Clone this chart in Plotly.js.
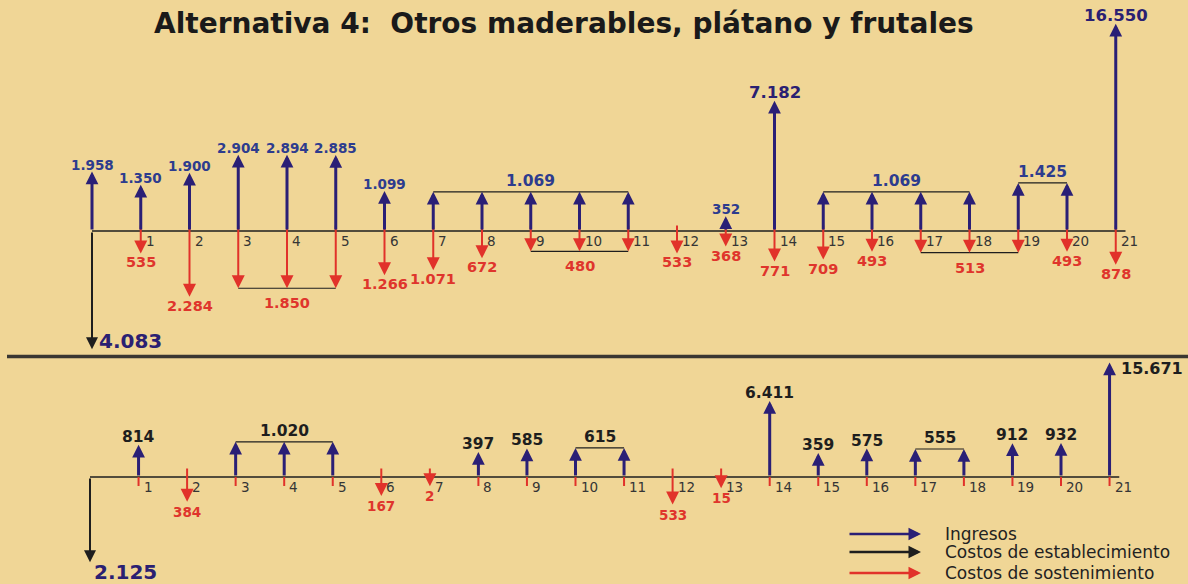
<!DOCTYPE html>
<html>
<head>
<meta charset="utf-8">
<script src="https://cdn.plot.ly/plotly-3.0.1.min.js"></script>
<style>
html,body{margin:0;padding:0;background:#F0D696;}
#chart{width:1188px;height:584px;}
</style>
</head>
<body>
<div id="chart"></div>
<script>
// ---------------- DATA ----------------
const titulo = 'Alternativa 4:  Otros maderables, plátano y frutales';
const periodos = [0,1,2,3,4,5,6,7,8,9,10,11,12,13,14,15,16,17,18,19,20,21];
const etiquetasPeriodo = ['','1','2','3','4','5','6','7','8','9','10','11','12','13','14','15','16','17','18','19','20','21'];
// Panel superior: flujos brutos
const ingresos = [1958,1350,1900,2904,2894,2885,1099,1069,1069,1069,1069,1069,0,352,7182,1069,1069,1069,1069,1425,1425,16550];
const costosSostenimiento = [0,535,2284,1850,1850,1850,1266,1071,672,480,480,480,533,368,771,709,493,513,513,513,493,878];
const costosEstablecimiento = [4083,0,0,0,0,0,0,0,0,0,0,0,0,0,0,0,0,0,0,0,0,0];
// Panel inferior: flujo neto
const flujoNeto = [-2125,814,-384,1020,1020,1020,-167,-2,397,585,615,615,-533,-15,6411,359,575,555,555,912,932,15671];
const leyenda = ['Ingresos','Costos de establecimiento','Costos de sostenimiento'];

// ---------------- STYLE ----------------
const W = 1188, H = 584;
const fondo = '#F0D696';
const azul = '#2A1F76', azulTexto = '#2D3C8E', azulOscuro = '#2A2072';
const rojo = '#E1322A', rojoTexto = '#DF352C';
const negro = '#1E1E1E';
const F = 'DejaVu Sans';

// Panels: axis pixel row, x mapping (px of period 0, px per period), ranges in px units on y
const A = {axis: 231, x0: 92, dx: 48.75, xr: [-1.8, 22.3], yr: [-124, 225]};
const B = {axis: 477, x0: 90, dx: 48.55, xr: [-1.8, 22.3], yr: [-107, 120]};
const domX = p => [(p.x0 + p.xr[0]*p.dx)/W, (p.x0 + p.xr[1]*p.dx)/W];
const domY = p => [(H - (p.axis - p.yr[0]))/H, (H - (p.axis - p.yr[1]))/H];

// display scales (arrow length in px from value)
const lenA = v => 1.75*Math.sqrt(v) - 18;
const lenB = v => 0.85*Math.sqrt(v) + 8;
const lenEst = v => 1.85*Math.sqrt(v);

const fmt = v => Math.abs(v).toString().replace(/\B(?=(\d{3})+(?!\d))/g, '.');

function grupos(vals, pred) {
  const out = []; let i = 0;
  while (i < vals.length) {
    let j = i;
    while (j + 1 < vals.length && vals[j+1] === vals[i]) j++;
    if (pred(vals[i], i)) out.push({s: i, e: j, v: vals[i]});
    i = j + 1;
  }
  return out;
}

const anns = [];
function flecha(ref, x, y0, y1, color, w, s, head) {
  anns.push({xref:'x'+ref, yref:'y'+ref, axref:'x'+ref, ayref:'y'+ref,
    x: x, y: y1, ax: x, ay: y0, text: '', showarrow: true,
    arrowhead: head === undefined ? 2 : head, arrowsize: s, arrowwidth: w,
    arrowcolor: color, standoff: 0, startstandoff: 0});
}
function etiqueta(ref, x, y, text, color, size, opts, weight) {
  anns.push(Object.assign({xref:'x'+ref, yref:'y'+ref, x: x, y: y, text: text,
    showarrow: false, font: {family: F, size: size, color: color, weight: weight === undefined ? 700 : weight}}, opts));
}

const BL = {w: 3, s: 0.85};   // blue arrows
const RD = {w: 2, s: 1.3};    // red arrows
const BK = {w: 2, s: 1.2};    // black arrows

// ---------------- TOP PANEL ----------------
costosSostenimiento.forEach((c, i) => { if (c > 0) flecha('', periodos[i], 7, -lenA(c), rojo, RD.w, RD.s); });
costosEstablecimiento.forEach((c, i) => { if (c > 0) flecha('', periodos[i], 0, -lenEst(c), negro, BK.w, BK.s); });
ingresos.forEach((v, i) => { if (v > 0) flecha('', periodos[i], 0, lenA(v), azul, BL.w, BL.s); });

const gIngA = grupos(ingresos, v => v > 0);
const gCosA = grupos(costosSostenimiento, v => v > 0);
const conA = {x: [], y: []};
gIngA.concat(gCosA.map(g => Object.assign({}, g, {neg: true}))).forEach(g => {
  if (g.e > g.s) {
    const y = g.neg ? -lenA(g.v) : lenA(g.v);
    conA.x.push(periodos[g.s], periodos[g.e], null);
    conA.y.push(y, y, null);
  }
});

// ---------------- BOTTOM PANEL ----------------
const stubB = {x: [], y: []};
flujoNeto.forEach((v, i) => {
  if (i > 0 && v > 0) { stubB.x.push(periodos[i], periodos[i], null); stubB.y.push(0, -9, null); }
});
flujoNeto.forEach((v, i) => {
  if (costosEstablecimiento[i] === 0 && v < 0) flecha('2', periodos[i], 10, -lenB(-v), rojo, RD.w, RD.s);
});
flujoNeto.forEach((v, i) => {
  if (costosEstablecimiento[i] > 0) flecha('2', periodos[i], 0, -lenEst(-v), negro, BK.w, BK.s);
});
flujoNeto.forEach((v, i) => { if (v > 0) flecha('2', periodos[i], 0, lenB(v), azul, BL.w, BL.s); });

const gPosB = grupos(flujoNeto, v => v > 0);
const gNegB = grupos(flujoNeto, (v, i) => v < 0 && costosEstablecimiento[i] === 0);
const conB = {x: [], y: []};
gPosB.forEach(g => {
  if (g.e > g.s) {
    const y = lenB(g.v);
    conB.x.push(periodos[g.s], periodos[g.e], null);
    conB.y.push(y, y, null);
  }
});

// ---------------- LABELS ----------------
gIngA.forEach(g => {
  const xc = (periodos[g.s] + periodos[g.e]) / 2;
  const big = g.v > 5000;
  const size = big ? 16.5 : (g.e > g.s ? 15.5 : 13.5);
  etiqueta('', xc, lenA(g.v), fmt(g.v), big ? azulOscuro : azulTexto, size,
    {xanchor: 'center', yanchor: 'bottom', yshift: g.e > g.s ? 0 : -3});
});
gCosA.forEach(g => {
  const xc = (periodos[g.s] + periodos[g.e]) / 2;
  etiqueta('', xc, -lenA(g.v), fmt(g.v), rojoTexto, 14.5,
    {xanchor: 'center', yanchor: 'top', yshift: g.e > g.s ? -5 : 1});
});
costosEstablecimiento.forEach((c, i) => {
  if (c > 0) etiqueta('', periodos[i], -lenEst(c), fmt(c), azulOscuro, 20,
    {xanchor: 'left', yanchor: 'middle', xshift: 5, yshift: 8});
});

const ultimo = periodos.length - 1;
gPosB.forEach(g => {
  const xc = (periodos[g.s] + periodos[g.e]) / 2;
  if (g.s === ultimo) {
    etiqueta('2', xc, lenB(g.v), fmt(g.v), negro, 16,
      {xanchor: 'left', yanchor: 'middle', xshift: 9, yshift: -6});
  } else {
    etiqueta('2', xc, lenB(g.v), fmt(g.v), negro, 15.5,
      {xanchor: 'center', yanchor: 'bottom', yshift: g.e > g.s ? 0 : -3});
  }
});
gNegB.forEach(g => {
  const xc = (periodos[g.s] + periodos[g.e]) / 2;
  etiqueta('2', xc, -lenB(-g.v), fmt(g.v), rojoTexto, 13.5,
    {xanchor: 'center', yanchor: 'top', yshift: 0});
});
flujoNeto.forEach((v, i) => {
  if (costosEstablecimiento[i] > 0) etiqueta('2', periodos[i], -lenEst(-v), fmt(v), azulOscuro, 20,
    {xanchor: 'left', yanchor: 'top', xshift: 2, yshift: 4});
});

// period tick labels
['', '2'].forEach(ref => {
  periodos.forEach((p, i) => {
    if (etiquetasPeriodo[i]) etiqueta(ref, p, 0, etiquetasPeriodo[i], '#353535', 13.5,
      {xanchor: 'left', yanchor: 'top', xshift: 3, yshift: 0}, 400);
  });
});

// title
anns.push({xref: 'paper', yref: 'paper', x: 564/W, y: (H - 23.5)/H, xanchor: 'center', yanchor: 'middle',
  text: titulo, showarrow: false, font: {family: F, size: 28, color: '#1A1A1A', weight: 700}});

// legend
const legColores = [azul, negro, rojo];
const legY = [534, 552, 573];
leyenda.forEach((name, k) => {
  const yp = (H - legY[k]) / H;
  anns.push({xref: 'paper', yref: 'paper', x: 921/W, y: yp, ax: -73, ay: 0, text: '', showarrow: true,
    arrowhead: 2, arrowsize: 1.0, arrowwidth: 2.5, arrowcolor: legColores[k], standoff: 0});
  anns.push({xref: 'paper', yref: 'paper', x: 943/W, y: yp, xanchor: 'left', yanchor: 'middle',
    text: name, showarrow: false, font: {family: F, size: 17, color: '#222222'}});
});

// ---------------- TRACES ----------------
const traces = [
  {type: 'scatter', mode: 'lines', x: [periodos[0], periodos[ultimo] + 0.2], y: [0, 0],
   xaxis: 'x', yaxis: 'y', line: {color: negro, width: 1.3}, hoverinfo: 'skip'},
  {type: 'scatter', mode: 'lines', x: conA.x, y: conA.y, xaxis: 'x', yaxis: 'y',
   line: {color: negro, width: 1.2}, hoverinfo: 'skip'},
  {type: 'scatter', mode: 'lines', x: [periodos[0], periodos[ultimo] + 0.2], y: [0, 0],
   xaxis: 'x2', yaxis: 'y2', line: {color: negro, width: 1.3}, hoverinfo: 'skip'},
  {type: 'scatter', mode: 'lines', x: stubB.x, y: stubB.y, xaxis: 'x2', yaxis: 'y2',
   line: {color: rojo, width: 2}, hoverinfo: 'skip'},
  {type: 'scatter', mode: 'lines', x: conB.x, y: conB.y, xaxis: 'x2', yaxis: 'y2',
   line: {color: negro, width: 1.2}, hoverinfo: 'skip'}
];

const ax = {visible: false, showgrid: false, zeroline: false, fixedrange: true};
const layout = {
  width: W, height: H, margin: {l: 0, r: 0, t: 0, b: 0},
  paper_bgcolor: fondo, plot_bgcolor: 'rgba(0,0,0,0)', showlegend: false,
  xaxis: Object.assign({domain: domX(A), range: A.xr, anchor: 'y'}, ax),
  yaxis: Object.assign({domain: domY(A), range: A.yr, anchor: 'x'}, ax),
  xaxis2: Object.assign({domain: domX(B), range: B.xr, anchor: 'y2'}, ax),
  yaxis2: Object.assign({domain: domY(B), range: B.yr, anchor: 'x2'}, ax),
  annotations: anns,
  shapes: [{type: 'line', xref: 'paper', yref: 'paper', x0: 7/W, x1: 1, y0: (H - 356.5)/H, y1: (H - 356.5)/H,
    line: {color: '#3A3732', width: 3.5}}]
};

Plotly.newPlot('chart', traces, layout, {staticPlot: true, displayModeBar: false});
</script>
</body>
</html>
